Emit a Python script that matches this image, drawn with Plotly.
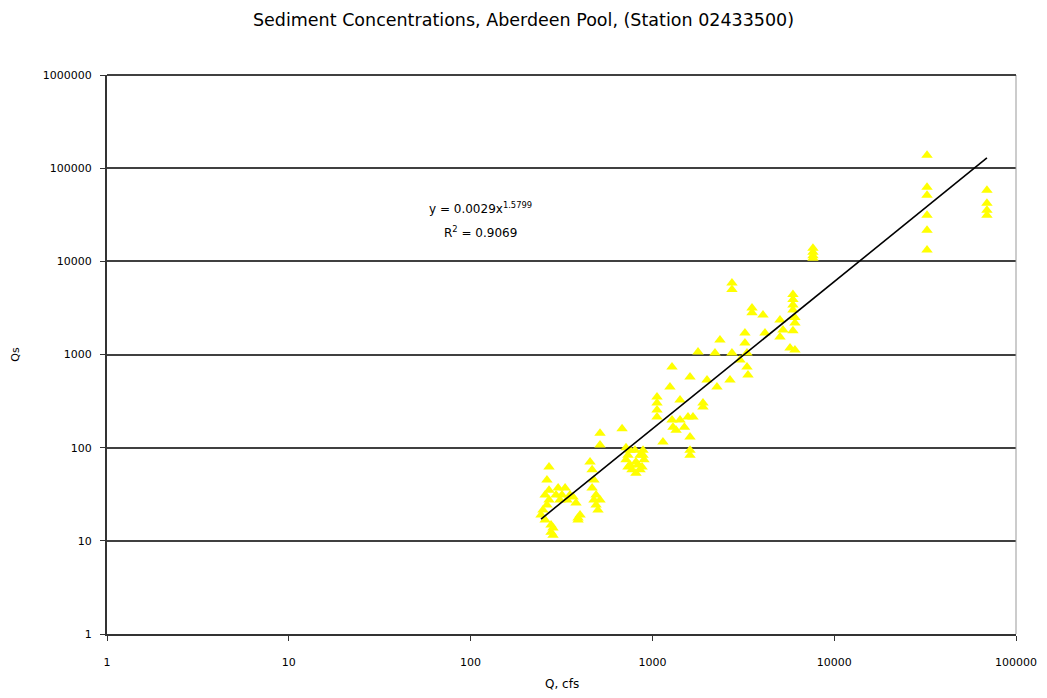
import plotly.graph_objects as go
import numpy as np

# Discharge Q (cfs) and sediment load Qs
q_cfs = [
    244, 250, 257, 263, 270, 277, 277, 284, 284, 263, 270, 257, 270,
    295, 303, 310, 318, 331, 339, 352, 366, 380, 390, 400, 390,
    454, 466, 477, 490, 502, 515, 490, 477, 466, 515, 515,
    681, 716, 734, 753, 772, 802, 812, 833, 855, 877, 899, 753, 734, 812, 855, 716,
    1060, 1060, 1060, 1060, 888, 888, 1143, 1282, 1249, 1419, 1610,
    1298, 1282, 1350, 1419, 1500, 1570, 1610, 1610, 1610,
    1898, 1997, 2265, 2671, 3033, 3313, 1782, 2209, 2739, 1672, 1898, 2353, 3229,
    2739, 2739, 3531, 3531, 4057, 5032,
    5930, 5930, 5930, 5930, 6081, 6081, 5930, 6081, 5713,
    4161, 3229, 3313, 3356, 5032, 5228,
    7640, 7640, 7640, 7640,
    32400, 32400, 32400, 32400, 32400, 32400,
    69200, 69200, 69200, 69200,
]
qs_load = [
    18.9, 21.4, 16.7, 45, 62, 14.8, 12.4, 11.5, 13.7, 24.2, 27.4, 31, 35,
    31, 37, 27.4, 31, 37, 27.4, 31, 29.5, 25.5, 17.6, 18.9, 16.7,
    70, 37, 27.4, 24.2, 21.4, 27.4, 31, 45, 58, 143, 107,
    160, 74, 83, 65, 58, 94, 70, 65, 58, 62, 74, 94, 62, 53, 83, 100,
    349, 301, 253, 213, 94, 83, 115, 733, 447, 324, 572,
    166, 198, 154, 198, 166, 213, 130, 94, 83,
    273, 531, 447, 531, 871, 1035, 1061, 1035, 1035, 213, 301, 1429, 1698,
    5840, 5000, 3150, 2800, 2648, 2340,
    4400, 3900, 3400, 2995, 2500, 2173, 1800, 1115, 1171,
    1698, 1326, 733, 601, 1538, 1828,
    12550, 10820, 13860, 11500,
    137700, 62500, 51300, 31300, 21600, 13200,
    58100, 42100, 35400, 31300,
]

# Power trendline y = a * x^b (as printed on the chart)
trend_a = 0.0029
trend_b = 1.5799
r_squared = 0.9069

x_tick_vals = [1, 10, 100, 1000, 10000, 100000]
x_tick_text = ["1", "10", "100", "1000", "10000", "100000"]
y_tick_vals = [1, 10, 100, 1000, 10000, 100000, 1000000]
y_tick_text = ["1", "10", "100", "1000", "10000", "100000", "1000000"]

title_text = "Sediment Concentrations, Aberdeen Pool, (Station 02433500)"
x_title = "Q, cfs"
y_title = "Qs"

font_family = "DejaVu Sans, Liberation Sans, Arial, sans-serif"

tx = np.logspace(np.log10(min(q_cfs)), np.log10(max(q_cfs)), 200)
ty = trend_a * tx ** trend_b

fig = go.Figure()
fig.add_trace(go.Scatter(
    x=q_cfs, y=qs_load, mode="markers",
    marker=dict(symbol="triangle-up", size=10, color="#FFFF00",
                line=dict(width=0)),
    showlegend=False, hoverinfo="x+y",
))
fig.add_trace(go.Scatter(
    x=tx, y=ty, mode="lines",
    line=dict(color="#000000", width=1.6),
    showlegend=False, hoverinfo="skip",
))

fig.update_layout(
    width=1047, height=698,
    margin=dict(l=107, r=31, t=75, b=64, autoexpand=False),
    paper_bgcolor="white", plot_bgcolor="white",
    font=dict(family=font_family, size=11, color="black"),
    title=dict(text=title_text,
               x=0.5, xanchor="center", y=0.972, yanchor="middle",
               font=dict(family=font_family, size=17.5, color="black")),
    xaxis=dict(
        type="log", range=[0, 5], automargin=False,
        tickvals=x_tick_vals, ticktext=x_tick_text,
        ticks="outside", ticklen=5, tickwidth=1, tickcolor="#333333",
        ticklabelstandoff=12,
        showline=True, linecolor="#333333", linewidth=2, mirror=False,
        showgrid=False, zeroline=False,
        tickfont=dict(family=font_family, size=11),
    ),
    yaxis=dict(
        type="log", range=[0, 6], automargin=False,
        tickvals=y_tick_vals, ticktext=y_tick_text,
        ticks="outside", ticklen=5, tickwidth=1, tickcolor="#333333",
        ticklabelstandoff=6,
        showline=True, linecolor="#333333", linewidth=2,
        showgrid=True, gridcolor="#404040", gridwidth=2,
        zeroline=False,
        tickfont=dict(family=font_family, size=11),
    ),
    annotations=[
        dict(x=np.log10(113), y=np.log10(37200), xref="x", yref="y",
             text=f"y = {trend_a}x<sup>{trend_b}</sup>", showarrow=False,
             font=dict(family=font_family, size=12), xanchor="center"),
        dict(x=np.log10(113), y=np.log10(20600), xref="x", yref="y",
             text=f"R<sup>2</sup> = {r_squared}", showarrow=False,
             font=dict(family=font_family, size=12), xanchor="center"),
        dict(x=0.5, y=-0.09, xref="paper", yref="paper", text=x_title,
             showarrow=False, xanchor="center", yanchor="middle",
             font=dict(family=font_family, size=12)),
        dict(x=-0.101, y=0.5, xref="paper", yref="paper", text=y_title,
             showarrow=False, xanchor="center", yanchor="middle", textangle=-90,
             font=dict(family=font_family, size=11)),
    ],
    shapes=[
        dict(type="line", xref="paper", yref="paper", x0=1, x1=1, y0=0, y1=1,
             line=dict(color="#999999", width=1)),
        dict(type="line", xref="paper", yref="paper", x0=0, x1=1, y0=1, y1=1,
             line=dict(color="#404040", width=2)),
    ],
)

fig.write_html("out.html")
